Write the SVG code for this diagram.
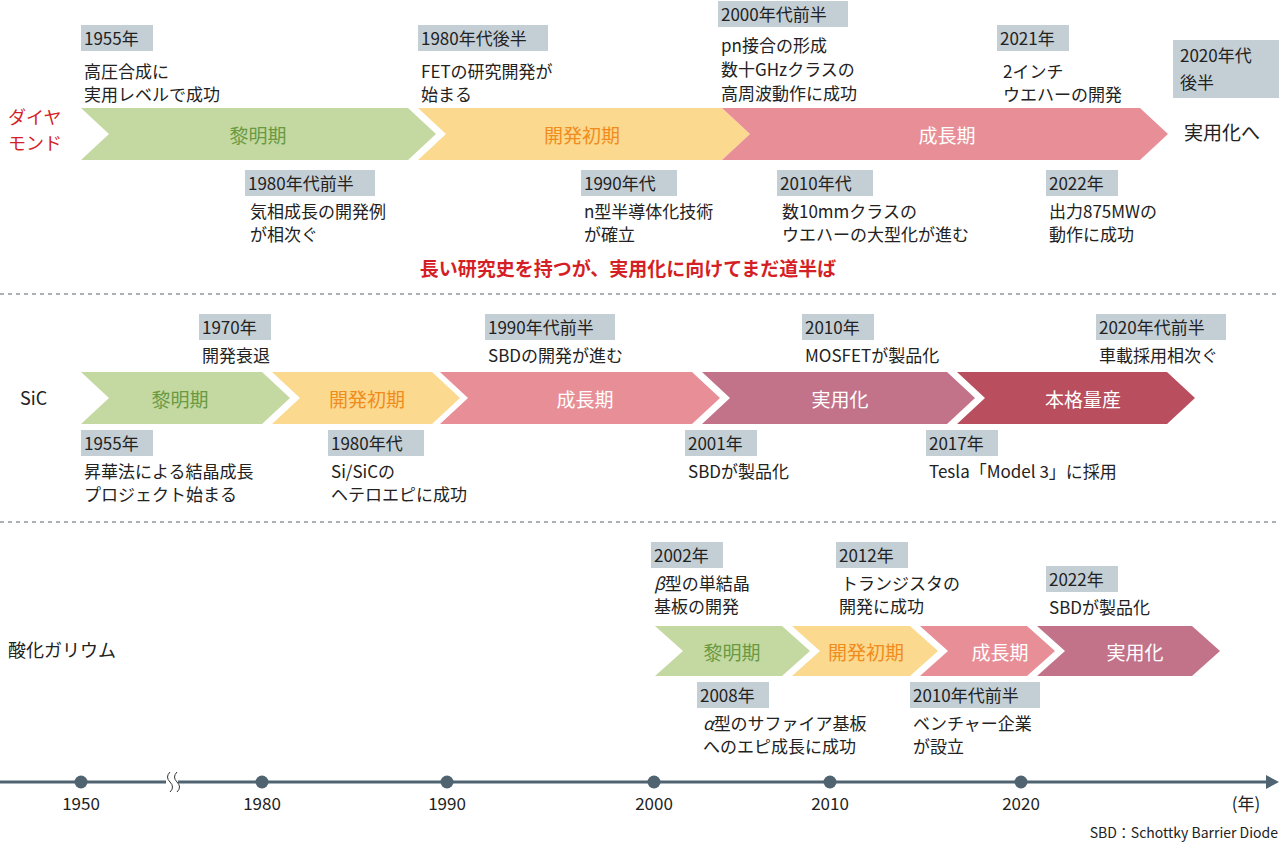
<svg xmlns="http://www.w3.org/2000/svg" width="1280" height="844" viewBox="0 0 1280 844">
<style>
text{font-family:"Noto Sans CJK JP","Liberation Sans",sans-serif;font-size:17px;fill:#222}
.tag{fill:#c3ced5}
.ph{font-size:19px;text-anchor:middle;dominant-baseline:central}
.g{fill:#c4d8a2}.y{fill:#fbd98e}.p{fill:#e88e96}.m{fill:#c27389}.r{fill:#b94f5e}
.dash{stroke:#8a9aa3;stroke-width:1.5;stroke-dasharray:4 4}
</style>
<rect width="1280" height="844" fill="#fff"/>
<g id="row-diamond">
<text x="8" y="124" style="fill:#d51f26;font-size:18px">ダイヤ</text>
<text x="8" y="150" style="fill:#d51f26;font-size:18px">モンド</text>
<polygon class="g" points="81,108 408,108 436,134 408,160 81,160 109,134"/>
<polygon class="y" points="418,108 722,108 750,134 722,160 418,160 446,134"/>
<polygon class="p" points="722,108 1140,108 1168,134 1140,160 722,160 750,134"/>
<text class="ph" x="258" y="134" style="fill:#6a9a3f">黎明期</text>
<text class="ph" x="582" y="134" style="fill:#f08c1c">開発初期</text>
<text class="ph" x="947" y="134" style="fill:#fff">成長期</text>
<text x="1222" y="140" style="text-anchor:middle;font-size:19px">実用化へ</text>
<rect class="tag" x="81" y="25" width="72" height="26"/><text x="84" y="45">1955年</text>
<text x="84" y="78">高圧合成に</text><text x="84" y="101">実用レベルで成功</text>
<rect class="tag" x="418" y="25" width="130" height="26"/><text x="421" y="45">1980年代後半</text>
<text x="421" y="78">FETの研究開発が</text><text x="421" y="101">始まる</text>
<rect class="tag" x="718" y="1" width="130" height="26"/><text x="721" y="21">2000年代前半</text>
<text x="721" y="52">pn接合の形成</text><text x="721" y="76">数十GHzクラスの</text><text x="721" y="100">高周波動作に成功</text>
<rect class="tag" x="997" y="25" width="72" height="26"/><text x="1000" y="45">2021年</text>
<text x="1003" y="78">2インチ</text><text x="1003" y="101">ウエハーの開発</text>
<rect class="tag" x="1173" y="40" width="106" height="58"/><text x="1180" y="62">2020年代</text><text x="1180" y="89">後半</text>
<rect class="tag" x="245" y="170" width="130" height="26"/><text x="248" y="190">1980年代前半</text>
<text x="250" y="218">気相成長の開発例</text><text x="250" y="241">が相次ぐ</text>
<rect class="tag" x="581" y="170" width="96" height="26"/><text x="584" y="190">1990年代</text>
<text x="584" y="218">n型半導体化技術</text><text x="584" y="241">が確立</text>
<rect class="tag" x="777" y="170" width="96" height="26"/><text x="780" y="190">2010年代</text>
<text x="782" y="218">数10mmクラスの</text><text x="782" y="241">ウエハーの大型化が進む</text>
<rect class="tag" x="1046" y="170" width="72" height="26"/><text x="1049" y="190">2022年</text>
<text x="1049" y="218">出力875MWの</text><text x="1049" y="241">動作に成功</text>
<text x="628" y="276" style="text-anchor:middle;fill:#d51f26;font-size:19px;font-weight:bold">長い研究史を持つが、実用化に向けてまだ道半ば</text>
</g>
<line class="dash" x1="0" y1="294" x2="1280" y2="294"/>
<g id="row-sic">
<text x="20" y="405" style="font-size:18px">SiC</text>
<polygon class="g" points="81,372 262,372 290,398 262,424 81,424 109,398"/>
<polygon class="y" points="272,372 432,372 460,398 432,424 272,424 300,398"/>
<polygon class="p" points="440,372 692,372 720,398 692,424 440,424 468,398"/>
<polygon class="m" points="702,372 947,372 975,398 947,424 702,424 730,398"/>
<polygon class="r" points="957,372 1167,372 1195,398 1167,424 957,424 985,398"/>
<text class="ph" x="180" y="398" style="fill:#6a9a3f">黎明期</text>
<text class="ph" x="367" y="398" style="fill:#f08c1c">開発初期</text>
<text class="ph" x="585" y="398" style="fill:#fff">成長期</text>
<text class="ph" x="840" y="398" style="fill:#fff">実用化</text>
<text class="ph" x="1083" y="398" style="fill:#fff">本格量産</text>
<rect class="tag" x="199" y="314" width="72" height="26"/><text x="202" y="334">1970年</text>
<text x="202" y="362">開発衰退</text>
<rect class="tag" x="485" y="314" width="130" height="26"/><text x="488" y="334">1990年代前半</text>
<text x="488" y="362">SBDの開発が進む</text>
<rect class="tag" x="802" y="314" width="72" height="26"/><text x="805" y="334">2010年</text>
<text x="805" y="362">MOSFETが製品化</text>
<rect class="tag" x="1096" y="314" width="130" height="26"/><text x="1099" y="334">2020年代前半</text>
<text x="1099" y="362">車載採用相次ぐ</text>
<rect class="tag" x="81" y="430" width="72" height="26"/><text x="84" y="450">1955年</text>
<text x="84" y="478">昇華法による結晶成長</text><text x="84" y="501">プロジェクト始まる</text>
<rect class="tag" x="328" y="430" width="96" height="26"/><text x="331" y="450">1980年代</text>
<text x="331" y="478">Si/SiCの</text><text x="331" y="501">ヘテロエピに成功</text>
<rect class="tag" x="685" y="430" width="72" height="26"/><text x="688" y="450">2001年</text>
<text x="688" y="478">SBDが製品化</text>
<rect class="tag" x="926" y="430" width="72" height="26"/><text x="929" y="450">2017年</text>
<text x="929" y="478">Tesla「Model 3」に採用</text>
</g>
<line class="dash" x1="0" y1="522" x2="1280" y2="522"/>
<g id="row-ga2o3">
<text x="8" y="657" style="font-size:18px">酸化ガリウム</text>
<polygon class="g" points="655,626 782,626 810,651 782,676 655,676 683,651"/>
<polygon class="y" points="792,626 910,626 938,651 910,676 792,676 820,651"/>
<polygon class="p" points="920,626 1027,626 1055,651 1027,676 920,676 948,651"/>
<polygon class="m" points="1037,626 1192,626 1220,651 1192,676 1037,676 1065,651"/>
<text class="ph" x="732" y="651" style="fill:#6a9a3f">黎明期</text>
<text class="ph" x="866" y="651" style="fill:#f08c1c">開発初期</text>
<text class="ph" x="1000" y="651" style="fill:#fff">成長期</text>
<text class="ph" x="1135" y="651" style="fill:#fff">実用化</text>
<rect class="tag" x="651" y="542" width="72" height="26"/><text x="654" y="562">2002年</text>
<text x="654" y="590"><tspan font-style="italic">β</tspan>型の単結晶</text><text x="654" y="613">基板の開発</text>
<rect class="tag" x="836" y="542" width="72" height="26"/><text x="839" y="562">2012年</text>
<text x="841" y="590">トランジスタの</text><text x="839" y="613">開発に成功</text>
<rect class="tag" x="1046" y="566" width="72" height="26"/><text x="1049" y="586">2022年</text>
<text x="1049" y="614">SBDが製品化</text>
<rect class="tag" x="697" y="682" width="72" height="26"/><text x="700" y="702">2008年</text>
<text x="703" y="730"><tspan font-style="italic">α</tspan>型のサファイア基板</text><text x="703" y="753">へのエピ成長に成功</text>
<rect class="tag" x="910" y="682" width="130" height="26"/><text x="913" y="702">2010年代前半</text>
<text x="913" y="730">ベンチャー企業</text><text x="913" y="753">が設立</text>
</g>
<g id="connectors">
<line x1="0" y1="782" x2="1268" y2="782" stroke="#4f6470" stroke-width="3"/>
<polygon points="1266,775 1279,782 1266,789" fill="#4f6470"/>
<rect x="166" y="772" width="12" height="20" fill="#fff"/>
<path d="M170,772 q-5,5 0,10 q5,5 0,10 M177,772 q-5,5 0,10 q5,5 0,10" fill="none" stroke="#333" stroke-width="1"/>
<g fill="#4f6470"><circle cx="81" cy="782" r="6.5"/><circle cx="262" cy="782" r="6.5"/><circle cx="447" cy="782" r="6.5"/><circle cx="654" cy="782" r="6.5"/><circle cx="830" cy="782" r="6.5"/><circle cx="1021" cy="782" r="6.5"/></g>
</g>
<g id="axis-labels" style="text-anchor:middle">
<text x="81" y="810">1950</text><text x="262" y="810">1980</text><text x="447" y="810">1990</text><text x="654" y="810">2000</text><text x="830" y="810">2010</text><text x="1021" y="810">2020</text>
<text x="1246" y="810">(年)</text>
<text x="1278" y="838" style="text-anchor:end;font-size:14px">SBD：Schottky Barrier Diode</text>
</g>
</svg>
